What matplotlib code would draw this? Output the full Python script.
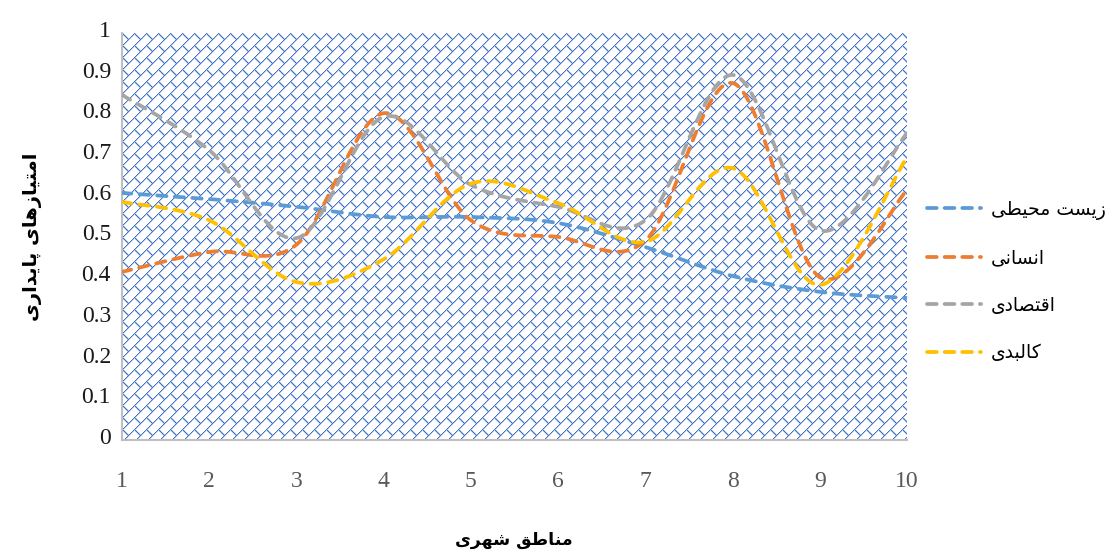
import numpy as np
import matplotlib
matplotlib.use("Agg")
import matplotlib.pyplot as plt
from matplotlib.lines import Line2D
from matplotlib.transforms import ScaledTranslation

# ---------------- data ----------------
regions = [1, 2, 3, 4, 5, 6, 7, 8, 9, 10]
environmental = [0.607, 0.592, 0.573, 0.548, 0.548, 0.533, 0.474, 0.403, 0.364, 0.349]
human = [0.413, 0.462, 0.480, 0.803, 0.540, 0.499, 0.490, 0.877, 0.400, 0.614]
economic = [0.848, 0.712, 0.496, 0.794, 0.627, 0.573, 0.540, 0.897, 0.515, 0.754]
physical = [0.585, 0.540, 0.388, 0.444, 0.630, 0.582, 0.487, 0.668, 0.381, 0.695]
series_names = ["زیست محیطی", "انسانی", "اقتصادی", "کالبدی"]
y_ticks = [0, 0.1, 0.2, 0.3, 0.4, 0.5, 0.6, 0.7, 0.8, 0.9, 1]
y_tick_labels = ["0", "0.1", "0.2", "0.3", "0.4", "0.5", "0.6", "0.7", "0.8", "0.9", "1"]
x_title = "مناطق شهری"
y_title = "امتیازهای پایداری"

colors = ["#5B9BD5", "#ED7D31", "#A5A5A5", "#FFC000"]

# ------------- Persian shaping (presentation forms, visual order) -------------
FORMS = {
    'ا': (0xFE8D, 0xFE8E, None, None),
    'ب': (0xFE8F, 0xFE90, 0xFE91, 0xFE92),
    'پ': (0xFB56, 0xFB57, 0xFB58, 0xFB59),
    'ت': (0xFE95, 0xFE96, 0xFE97, 0xFE98),
    'ح': (0xFEA1, 0xFEA2, 0xFEA3, 0xFEA4),
    'د': (0xFEA9, 0xFEAA, None, None),
    'ر': (0xFEAD, 0xFEAE, None, None),
    'ز': (0xFEAF, 0xFEB0, None, None),
    'س': (0xFEB1, 0xFEB2, 0xFEB3, 0xFEB4),
    'ش': (0xFEB5, 0xFEB6, 0xFEB7, 0xFEB8),
    'ص': (0xFEB9, 0xFEBA, 0xFEBB, 0xFEBC),
    'ط': (0xFEC1, 0xFEC2, 0xFEC3, 0xFEC4),
    'ق': (0xFED5, 0xFED6, 0xFED7, 0xFED8),
    'ک': (0xFB8E, 0xFB8F, 0xFB90, 0xFB91),
    'ل': (0xFEDD, 0xFEDE, 0xFEDF, 0xFEE0),
    'م': (0xFEE1, 0xFEE2, 0xFEE3, 0xFEE4),
    'ن': (0xFEE5, 0xFEE6, 0xFEE7, 0xFEE8),
    'ه': (0xFEE9, 0xFEEA, 0xFEEB, 0xFEEC),
    'ی': (0xFBFC, 0xFBFD, 0xFBFE, 0xFBFF),
}


def shape(t):
    out = []
    n = len(t)
    for k, c in enumerate(t):
        if c not in FORMS:
            out.append(c)
            continue
        f = FORMS[c]
        prev = t[k - 1] if k > 0 else None
        nxt = t[k + 1] if k < n - 1 else None
        jp = prev in FORMS and FORMS[prev][2] is not None
        jn = f[2] is not None and nxt in FORMS
        if jp and jn:
            g = f[3]
        elif jp:
            g = f[1]
        elif jn:
            g = f[2]
        else:
            g = f[0]
        out.append(chr(g))
    return "".join(reversed(out))


def smooth(x, y, n=40):
    """Excel-like smoothed line (Catmull-Rom Bezier) through the points."""
    x = np.asarray(x, float)
    y = np.asarray(y, float)
    px = np.concatenate([[x[0]], x, [x[-1]]])
    py = np.concatenate([[y[0]], y, [y[-1]]])
    xs, ys = [], []
    t = np.linspace(0, 1, n)
    for i in range(1, len(px) - 2):
        p0 = np.array([px[i], py[i]])
        p3 = np.array([px[i + 1], py[i + 1]])
        c1 = p0 + (np.array([px[i + 1], py[i + 1]]) - np.array([px[i - 1], py[i - 1]])) / 6
        c2 = p3 - (np.array([px[i + 2], py[i + 2]]) - np.array([px[i], py[i]])) / 6
        b = ((1 - t) ** 3)[:, None] * p0 + (3 * (1 - t) ** 2 * t)[:, None] * c1 \
            + (3 * (1 - t) * t ** 2)[:, None] * c2 + (t ** 3)[:, None] * p3
        xs.append(b[:, 0])
        ys.append(b[:, 1])
    return np.concatenate(xs), np.concatenate(ys)


# ---------------- figure ----------------
FW, FH = 1118, 550
fig = plt.figure(figsize=(FW / 100, FH / 100), dpi=100)
x0, x1, y0, y1 = 122, 907, 110, 517   # plot area in pixels (from bottom)
ax = fig.add_axes([x0 / FW, y0 / FH, (x1 - x0) / FW, (y1 - y0) / FH])
ax.set_facecolor("none")
ax.set_xlim(1, 10)
ax.set_ylim(0, 1)

# pattern fill of plot area (diagonal brick), drawn at exact pixels
W = x1 - x0
H = y1 - y0
ii, jj = np.mgrid[0:H, 0:W]
s = ii + jj
d = jj - ii
P = 12
band = s // P
core = (s % P == 0) | ((d - (band % 2) * P) % (2 * P) == 0)
halo = np.zeros_like(core)
halo[:, 1:] |= core[:, :-1]
halo[1:, :] |= core[:-1, :]
halo &= ~core
img = np.full((H, W, 3), 255, dtype=np.uint8)
img[halo] = (182, 202, 236)
img[core] = (68, 114, 196)
fig.figimage(img, xo=x0, yo=y0, origin="upper", zorder=-1)

all_series = [environmental, human, economic, physical]
handles = []
LW = 2.7
DASH = (0, (2.5, 2.2))
for vals, col, name in zip(all_series, colors, series_names):
    sx, sy = smooth(regions, vals)
    ax.plot(sx, sy, color=col, lw=LW, ls=DASH,
            dash_capstyle="round", solid_capstyle="round", zorder=3)
    handles.append(Line2D([], [], color=col, lw=LW, ls=(0, (2.6, 2.1)),
                          dash_capstyle="round"))

for sp in ["top", "right"]:
    ax.spines[sp].set_visible(False)
for sp in ["left", "bottom"]:
    ax.spines[sp].set_color("#BFBFBF")
    ax.spines[sp].set_linewidth(1.5)

ax.set_yticks(y_ticks)
ax.set_yticklabels(y_tick_labels, family="Liberation Serif", fontsize=17, color="#1a1a1a")
ax.set_xticks(regions)
ax.set_xticklabels([str(r) for r in regions], family="Liberation Serif", fontsize=17, color="#595959")
ax.tick_params(axis="y", length=0, pad=8)
ax.tick_params(axis="x", length=0, pad=22)
off = ScaledTranslation(0, 4 / 100, fig.dpi_scale_trans)
for lab in ax.get_yticklabels():
    lab.set_transform(lab.get_transform() + off)

fig.text(514 / FW, 1 - 540 / FH, shape(x_title), ha="center", va="center",
         fontsize=12.5, fontweight="bold", family=["DejaVu Sans"])
fig.text(33 / FW, 1 - 237 / FH, shape(y_title), ha="center", va="center",
         rotation=90, fontsize=14, fontweight="bold", family=["DejaVu Sans"])

fig.legend(handles, [shape(n) for n in series_names],
           loc="upper left", bbox_to_anchor=(910 / FW, 1 - 183 / FH),
           frameon=False, handlelength=2.9, handletextpad=0.5,
           labelspacing=1.52, prop={"family": "DejaVu Sans", "size": 13.5})

fig.savefig("out.png", dpi=100)
